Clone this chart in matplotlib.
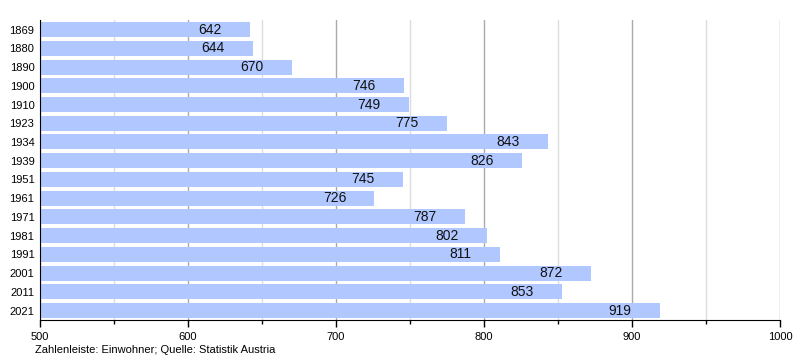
import matplotlib
matplotlib.use("Agg")
import matplotlib.pyplot as plt
from matplotlib.ticker import MultipleLocator

plt.rcParams['font.family'] = ['Liberation Sans', 'DejaVu Sans']

years = ["1869", "1880", "1890", "1900", "1910", "1923", "1934", "1939",
         "1951", "1961", "1971", "1981", "1991", "2001", "2011", "2021"]
values = [642, 644, 670, 746, 749, 775, 843, 826,
          745, 726, 787, 802, 811, 872, 853, 919]
note = "Zahlenleiste: Einwohner; Quelle: Statistik Austria"

fig = plt.figure(figsize=(8, 3.6), dpi=100)
ax = fig.add_axes([0.05, 0.111, 0.925, 0.833])

pos = list(range(len(years)))
ax.barh(pos, [v - 500 for v in values], left=500, height=0.8,
        color="#b0c8ff", zorder=2)
for p, v in zip(pos, values):
    ax.text(v - 27, p, str(v), ha="center", va="center", fontsize=10,
            color="#111111", zorder=3)

ax.set_xlim(500, 1000)
ax.set_ylim(len(years) - 0.5, -0.5)
ax.set_yticks(pos)
ax.set_yticklabels(years, fontsize=8)
ax.xaxis.set_major_locator(MultipleLocator(100))
ax.xaxis.set_minor_locator(MultipleLocator(50))
ax.tick_params(axis="x", which="major", labelsize=8, length=5, width=1, color="black")
ax.tick_params(axis="x", which="minor", length=3, width=1, color="black")
ax.tick_params(axis="y", length=0, pad=4)
ax.grid(axis="x", which="major", color="#aaaaaa", linewidth=1, zorder=0)
ax.grid(axis="x", which="minor", color="#dddddd", linewidth=1, zorder=0)
ax.set_axisbelow(True)
for s in ["top", "right"]:
    ax.spines[s].set_visible(False)
ax.spines["left"].set_color("black")
ax.spines["bottom"].set_color("black")

fig.text(35 / 800, 1 - 350 / 360, note, fontsize=8, ha="left", va="center")

fig.savefig("out.png", dpi=100)
